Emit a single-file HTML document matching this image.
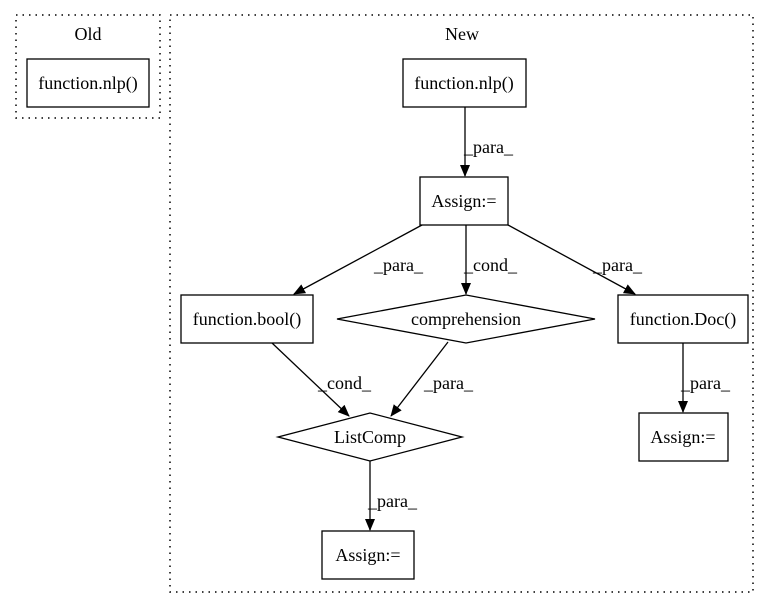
<!DOCTYPE html>
<html><head><style>body{margin:0;background:#fff}svg{display:block}</style></head><body>
<svg width="771" height="606" xmlns="http://www.w3.org/2000/svg" font-family="Liberation Serif, serif" font-size="18">
<defs><marker id="a" markerWidth="12" markerHeight="12" refX="11" refY="6" orient="auto" markerUnits="userSpaceOnUse"><path d="M0,1 L12,6 L0,11 Z" fill="#000"/></marker></defs>
<g fill="none" stroke="#000" stroke-dasharray="1.5,5" stroke-width="1.5">
<rect x="16" y="15" width="144" height="103"/>
<rect x="170" y="15" width="583" height="577"/>
</g>
<g text-anchor="middle" fill="#000">
<text x="88" y="40">Old</text>
<text x="462" y="40">New</text>
</g>
<g fill="#fff" stroke="#000" stroke-width="1.3">
<rect x="27" y="59" width="122" height="48"/>
<rect x="403" y="59" width="123" height="48"/>
<rect x="420" y="177" width="88" height="48"/>
<rect x="181" y="295" width="132" height="48"/>
<polygon points="337,319 466,295 595,319 466,343"/>
<rect x="618" y="295" width="130" height="48"/>
<polygon points="278,437 370,413 462,437 370,461"/>
<rect x="639" y="413" width="89" height="48"/>
<rect x="322" y="531" width="92" height="48"/>
</g>
<g text-anchor="middle" fill="#000">
<text x="88" y="89">function.nlp()</text>
<text x="464" y="89">function.nlp()</text>
<text x="464" y="207">Assign:=</text>
<text x="247" y="325">function.bool()</text>
<text x="466" y="325">comprehension</text>
<text x="683" y="325">function.Doc()</text>
<text x="370" y="443">ListComp</text>
<text x="683" y="443">Assign:=</text>
<text x="368" y="561">Assign:=</text>
</g>
<g stroke="#000" stroke-width="1.3" fill="none" marker-end="url(#a)">
<line x1="465" y1="107" x2="465" y2="176"/>
<line x1="422" y1="225" x2="294" y2="294"/>
<line x1="466" y1="225" x2="466" y2="294"/>
<line x1="508" y1="225" x2="635" y2="294"/>
<line x1="272" y1="343" x2="349" y2="416"/>
<line x1="448" y1="342" x2="391" y2="416"/>
<line x1="683" y1="343" x2="683" y2="412"/>
<line x1="370" y1="461" x2="370" y2="530"/>
</g>
<g fill="#000">
<text x="464" y="153">_para_</text>
<text x="374" y="271">_para_</text>
<text x="464" y="271">_cond_</text>
<text x="593" y="271">_para_</text>
<text x="318" y="389">_cond_</text>
<text x="424" y="389">_para_</text>
<text x="681" y="389">_para_</text>
<text x="368" y="507">_para_</text>
</g>
</svg>
</body></html>
